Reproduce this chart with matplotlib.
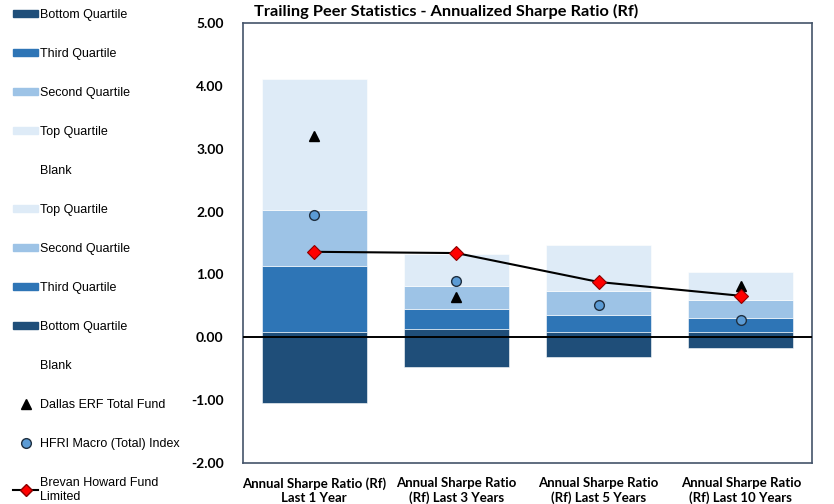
import matplotlib.pyplot as plt
from matplotlib.patches import Patch
from matplotlib.lines import Line2D
import numpy as np

categories = ['Annual Sharpe Ratio (Rf)\nLast 1 Year', 'Annual Sharpe Ratio\n(Rf) Last 3 Years',
              'Annual Sharpe Ratio\n(Rf) Last 5 Years', 'Annual Sharpe Ratio\n(Rf) Last 10 Years']

# quartile boundaries of the peer group
q_min = [-1.04, -0.48, -0.31, -0.17]
q25   = [0.09, 0.13, 0.08, 0.09]
q50   = [1.14, 0.45, 0.36, 0.31]
q75   = [2.03, 0.82, 0.74, 0.60]
q_max = [4.11, 1.33, 1.47, 1.04]

# 5 year point of Dallas is not visible in the chart (hidden behind the Brevan marker)
dallas = [3.20, 0.64, np.nan, 0.81]
hfri   = [1.95, 0.89, 0.52, 0.27]
brevan = [1.36, 1.34, 0.88, 0.66]

c_bottom = '#1F4E79'
c_third = '#2E75B6'
c_second = '#9DC3E6'
c_top = '#DEEBF7'

plt.rcParams['font.family'] = ['Lato', 'DejaVu Sans']

fig = plt.figure(figsize=(8.34, 5.04), dpi=100)
ax = fig.add_axes([0.2914, 0.0813, 0.6822, 0.8731])

x = np.arange(len(categories))
w = 0.74
qmin, a, b, c, qmax = map(np.array, (q_min, q25, q50, q75, q_max))
ax.bar(x, a - qmin, bottom=qmin, width=w, color=c_bottom, edgecolor='white', linewidth=0.4, zorder=2)
ax.bar(x, b - a, bottom=a, width=w, color=c_third, edgecolor='white', linewidth=0.4, zorder=2)
ax.bar(x, c - b, bottom=b, width=w, color=c_second, edgecolor='white', linewidth=0.4, zorder=2)
ax.bar(x, qmax - c, bottom=c, width=w, color=c_top, edgecolor='white', linewidth=0.4, zorder=2)

ax.axhline(0, color='black', linewidth=1.4, zorder=3)

ax.plot(x, dallas, linestyle='none', marker='^', color='black', markersize=7, zorder=4)
ax.plot(x, hfri, linestyle='none', marker='o', markerfacecolor='#5B9BD5', markeredgecolor='#1F2F40',
        markersize=7, markeredgewidth=1, zorder=4)
ax.plot(x, brevan, color='black', linewidth=1.5, marker='D', markerfacecolor='red',
        markeredgecolor='#8B0000', markersize=7, markeredgewidth=0.8, zorder=5)

ax.set_xlim(-0.5, 3.5)
ax.set_ylim(-2, 5)
ax.set_yticks(np.arange(-2, 6, 1))
ax.set_yticklabels([f'{v:.2f}' for v in np.arange(-2, 6, 1)], fontsize=10, fontweight='bold')
ax.set_xticks(x)
ax.set_xticklabels(categories, fontsize=9.5, fontweight='bold')
ax.tick_params(axis='both', length=0)
ax.tick_params(axis='y', pad=14)
ax.tick_params(axis='x', pad=10)
for s in ax.spines.values():
    s.set_color('#44546A')
    s.set_linewidth(1.2)

fig.text(0.535, 0.978, 'Trailing Peer Statistics - Annualized Sharpe Ratio (Rf)',
         ha='center', va='center', fontsize=11.8, fontweight='bold')

blank = Patch(facecolor='none', edgecolor='none')
handles = [Patch(color=c_bottom), Patch(color=c_third), Patch(color=c_second), Patch(color=c_top), blank,
           Patch(color=c_top), Patch(color=c_second), Patch(color=c_third), Patch(color=c_bottom), blank,
           Line2D([], [], linestyle='none', marker='^', color='black', markersize=7),
           Line2D([], [], linestyle='none', marker='o', markerfacecolor='#5B9BD5', markeredgecolor='#1F2F40', markersize=7),
           Line2D([], [], color='black', linewidth=1.5, marker='D', markerfacecolor='red',
                  markeredgecolor='#8B0000', markersize=6)]
labels = ['Bottom Quartile', 'Third Quartile', 'Second Quartile', 'Top Quartile', 'Blank',
          'Top Quartile', 'Second Quartile', 'Third Quartile', 'Bottom Quartile', 'Blank',
          'Dallas ERF Total Fund', 'HFRI Macro (Total) Index', 'Brevan Howard Fund\nLimited']
leg = fig.legend(handles, labels, loc='upper left', bbox_to_anchor=(13 / 834, 1 - 9 / 504), frameon=False,
                 prop={'family': 'Liberation Sans', 'size': 9}, labelspacing=2.16,
                 handlelength=2.0, handleheight=0.5, handletextpad=0.16, borderaxespad=0.0,
                 borderpad=0.0)

fig.savefig('out.png', dpi=100)
